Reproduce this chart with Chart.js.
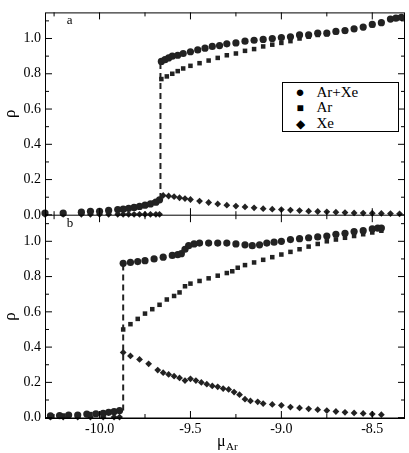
<!DOCTYPE html>
<html><head><meta charset="utf-8">
<script src="https://cdn.jsdelivr.net/npm/chart.js@4"></script>
<style>
body{margin:0;background:#fff}
#wrap{position:relative;width:409px;height:453px}
#legend{position:absolute;left:282px;top:82px;width:117px;height:50px;border:1px solid #000;background:#fff;
 font:15px "Liberation Serif",serif;box-sizing:border-box;padding:2px 0 0 8px;line-height:15px}
#legend span.m{display:inline-block;width:18px;text-align:center}
</style></head>
<body><div id="wrap"><canvas id="c" width="409" height="453"></canvas>
<div id="legend">
<div><span class="m">&#9679;</span> &nbsp;Ar+Xe</div>
<div><span class="m" style="font-size:12px">&#9632;</span> &nbsp;Ar</div>
<div><span class="m" style="font-size:12px">&#9670;</span> &nbsp;Xe</div>
</div></div>
<script>
// panel a
const aTotX = [-10.3,-10.2,-10.1,-10.05,-10.0,-9.95,-9.9,-9.87,-9.84,-9.81,-9.78,-9.75,-9.72,-9.69,-9.67,
  -9.66,-9.64,-9.62,-9.6,-9.57,-9.54,-9.5,-9.46,-9.42,-9.38,-9.34,-9.3,-9.25,-9.2,-9.15,-9.1,-9.05,-9.0,-8.95,-8.9,-8.85,-8.8,-8.75,-8.7,-8.65,-8.6,-8.55,-8.5,-8.45,-8.4,-8.37,-8.34];
const aTotY = [0.01,0.01,0.015,0.02,0.02,0.025,0.03,0.032,0.037,0.042,0.048,0.055,0.062,0.072,0.085,
  0.87,0.88,0.89,0.9,0.905,0.915,0.925,0.935,0.945,0.955,0.96,0.97,0.975,0.985,0.99,0.995,1.0,1.005,1.01,1.02,1.02,1.03,1.03,1.04,1.045,1.055,1.065,1.08,1.09,1.11,1.115,1.12];
const aArX = [-10.3,-10.2,-10.1,-10.0,-9.95,-9.9,-9.85,-9.8,-9.75,-9.7,-9.67,
  -9.66,-9.63,-9.6,-9.57,-9.54,-9.5,-9.45,-9.4,-9.35,-9.3,-9.25,-9.2,-9.15,-9.1,-9.05,-9.0,-8.95,-8.9,-8.85,-8.8,-8.75,-8.7,-8.65,-8.6,-8.55,-8.5,-8.45,-8.4,-8.36];
const aArY = [0.01,0.01,0.015,0.02,0.025,0.03,0.035,0.045,0.055,0.07,0.085,
  0.77,0.785,0.8,0.815,0.83,0.845,0.86,0.875,0.89,0.905,0.915,0.93,0.94,0.955,0.965,0.975,0.985,1.0,1.01,1.02,1.025,1.035,1.04,1.05,1.06,1.075,1.09,1.11,1.12];
const aXeX = [-10.3,-10.2,-10.1,-10.05,-10.0,-9.95,-9.9,-9.87,-9.84,-9.81,-9.78,-9.75,-9.72,-9.69,-9.67,
  -9.65,-9.62,-9.59,-9.56,-9.53,-9.5,-9.45,-9.4,-9.35,-9.3,-9.25,-9.2,-9.15,-9.1,-9.05,-9.0,-8.95,-8.9,-8.85,-8.8,-8.75,-8.7,-8.65,-8.6,-8.55,-8.5,-8.45,-8.4,-8.35];
const aXeY = [0.003,0.003,0.003,0.003,0.003,0.003,0.003,0.003,0.003,0.003,0.003,0.003,0.003,0.003,0.003,
  0.11,0.107,0.103,0.097,0.092,0.087,0.078,0.07,0.062,0.055,0.05,0.045,0.04,0.035,0.032,0.03,0.027,0.024,0.021,0.019,0.017,0.015,0.013,0.011,0.01,0.009,0.008,0.007,0.006];
const aJump = [[-9.665,0.09],[-9.665,0.87]];
// panel b
const bTotX = [-10.27,-10.22,-10.17,-10.12,-10.07,-10.02,-9.98,-9.95,-9.92,-9.89,
  -9.87,-9.83,-9.79,-9.75,-9.7,-9.65,-9.6,-9.57,-9.55,-9.53,-9.51,-9.48,-9.45,-9.4,-9.35,-9.3,-9.25,-9.2,-9.16,-9.12,-9.08,-9.04,-9.0,-8.95,-8.9,-8.85,-8.8,-8.75,-8.7,-8.65,-8.6,-8.55,-8.5,-8.47,-8.45];
const bTotY = [0.01,0.012,0.015,0.015,0.02,0.022,0.025,0.03,0.035,0.04,
  0.875,0.88,0.885,0.89,0.9,0.91,0.92,0.925,0.93,0.955,0.975,0.985,0.99,0.99,0.99,0.99,0.985,0.98,0.975,0.98,0.99,0.995,1.0,1.01,1.015,1.02,1.025,1.03,1.04,1.045,1.055,1.06,1.07,1.075,1.075];
const bArX = [-10.27,-10.2,-10.12,-10.05,-9.98,-9.92,-9.89,
  -9.87,-9.83,-9.79,-9.75,-9.71,-9.67,-9.63,-9.59,-9.56,-9.53,-9.5,-9.45,-9.4,-9.35,-9.3,-9.27,-9.24,-9.2,-9.15,-9.1,-9.05,-9.0,-8.95,-8.9,-8.85,-8.8,-8.75,-8.7,-8.65,-8.6,-8.55,-8.5,-8.45];
const bArY = [0.01,0.012,0.015,0.02,0.025,0.035,0.04,
  0.5,0.53,0.56,0.59,0.615,0.64,0.67,0.69,0.71,0.745,0.76,0.775,0.79,0.805,0.82,0.83,0.85,0.865,0.88,0.895,0.91,0.925,0.94,0.955,0.97,0.985,1.0,1.01,1.02,1.03,1.04,1.05,1.06];
const bXeX = [-10.27,-10.2,-10.12,-10.05,-9.98,-9.92,-9.89,
  -9.87,-9.83,-9.78,-9.73,-9.68,-9.65,-9.62,-9.59,-9.56,-9.53,-9.5,-9.47,-9.44,-9.41,-9.38,-9.35,-9.32,-9.29,-9.26,-9.23,-9.2,-9.17,-9.13,-9.1,-9.05,-9.0,-8.95,-8.9,-8.85,-8.8,-8.75,-8.7,-8.65,-8.6,-8.55,-8.5,-8.45];
const bXeY = [0.003,0.003,0.003,0.003,0.003,0.003,0.003,
  0.37,0.35,0.33,0.305,0.27,0.255,0.245,0.235,0.225,0.21,0.22,0.21,0.2,0.19,0.18,0.175,0.165,0.16,0.145,0.13,0.105,0.095,0.09,0.08,0.075,0.07,0.06,0.055,0.05,0.045,0.04,0.035,0.03,0.027,0.024,0.02,0.017];
const bJump = [[-9.87,0.04],[-9.87,0.875]];

const xTicks = [-10.0,-9.5,-9.0,-8.5];
const yTicks = [0.0,0.2,0.4,0.6,0.8,1.0];

Chart.defaults.font.family = 'Liberation Serif, serif';
const pts = (xs, ys) => xs.map((x, i) => ({x: x, y: ys[i]}));
const ink = '#222';
function series(xs, ys, axis, style, r) {
  return {data: pts(xs, ys), yAxisID: axis, showLine: false, pointStyle: style,
    pointRadius: r, backgroundColor: ink, borderColor: ink, borderWidth: 0};
}
function dash(p, axis) {
  return {data: p.map(q => ({x: q[0], y: q[1]})), yAxisID: axis, showLine: true, pointRadius: 0,
    borderColor: ink, borderWidth: 2, borderDash: [6, 4]};
}
const font = {family: 'Liberation Serif, serif', size: 14};
function yScale(order) {
  return {type: 'linear', stack: 'p', stackWeight: 1, position: 'left', min: -0.002, max: 1.148,
    afterBuildTicks: s => { s.ticks = yTicks.map(v => ({value: v})); },
    afterFit: s => { s.width = 45; },
    ticks: {color: '#000', font: font, callback: v => v.toFixed(1), padding: 4},
    grid: {display: false, drawTicks: false}, border: {display: false},
    title: {display: true, text: 'ρ', color: '#000', font: {family: font.family, size: 17}, padding: 0},
    weight: order};
}

// frame, inward ticks, panel labels and x title with subscript
const frame = {
  id: 'frame',
  afterDraw(chart) {
    const c = chart.ctx, a = chart.chartArea, x = chart.scales.x;
    c.save();
    c.strokeStyle = '#000'; c.lineWidth = 1;
    c.strokeRect(a.left + 0.5, a.top + 0.5, a.right - a.left - 1, a.bottom - a.top);
    ['yA', 'yB'].forEach((id, k) => {
      const s = chart.scales[id];
      c.beginPath(); c.moveTo(a.left, s.bottom); c.lineTo(a.right, s.bottom); c.stroke();
      for (let v = 0; v <= 1.1; v += 0.1) {
        const p = s.getPixelForValue(v), len = Math.round(v * 10) % 2 === 0 ? 7 : 4;
        c.beginPath(); c.moveTo(a.left, p); c.lineTo(a.left + len, p);
        c.moveTo(a.right, p); c.lineTo(a.right - len, p); c.stroke();
      }
      for (let v = -10.25; v <= -8.3; v += 0.25) {
        const p = x.getPixelForValue(v), len = Math.abs(v * 2 - Math.round(v * 2)) < 0.01 ? 7 : 4;
        c.beginPath(); c.moveTo(p, s.bottom); c.lineTo(p, s.bottom - len);
        c.moveTo(p, s.top); c.lineTo(p, s.top + len); c.stroke();
      }
      c.fillStyle = '#000'; c.font = '13px Liberation Serif, serif';
      c.fillText(k === 0 ? 'a' : 'b', x.getPixelForValue(-10.18), s.getPixelForValue(1.08));
    });
    const cx = (a.left + a.right) / 2 - 8;
    c.fillStyle = '#000';
    c.font = '16px Liberation Serif, serif'; c.fillText('μ', cx, 446);
    c.font = '11px Liberation Serif, serif'; c.fillText('Ar', cx + 9, 450);
    c.restore();
  }
};

new Chart(document.getElementById('c'), {
  type: 'scatter',
  data: {datasets: [
    dash(aJump, 'yA'), dash(bJump, 'yB'),
    series(aTotX, aTotY, 'yA', 'circle', 3.6), series(aArX, aArY, 'yA', 'rect', 3.2), series(aXeX, aXeY, 'yA', 'rectRot', 3.4),
    series(bTotX, bTotY, 'yB', 'circle', 3.6), series(bArX, bArY, 'yB', 'rect', 3.2), series(bXeX, bXeY, 'yB', 'rectRot', 3.4)
  ]},
  options: {
    responsive: false, animation: false, clip: false,
    layout: {padding: {top: -10, right: 4, left: 0, bottom: 0}},
    plugins: {legend: {display: false}, tooltip: {enabled: false}},
    scales: {
      x: {type: 'linear', min: -10.3, max: -8.32,
        afterBuildTicks: s => { s.ticks = xTicks.map(v => ({value: v})); },
        afterFit: s => { s.height = 35; },
        ticks: {color: '#000', font: font, callback: v => v.toFixed(1), padding: 3, maxRotation: 0},
        grid: {display: false, drawTicks: false}, border: {display: false},
        title: {display: false}},
      yA: yScale(2),
      yB: yScale(1)
    }
  },
  plugins: [frame]
});
</script></body></html>
